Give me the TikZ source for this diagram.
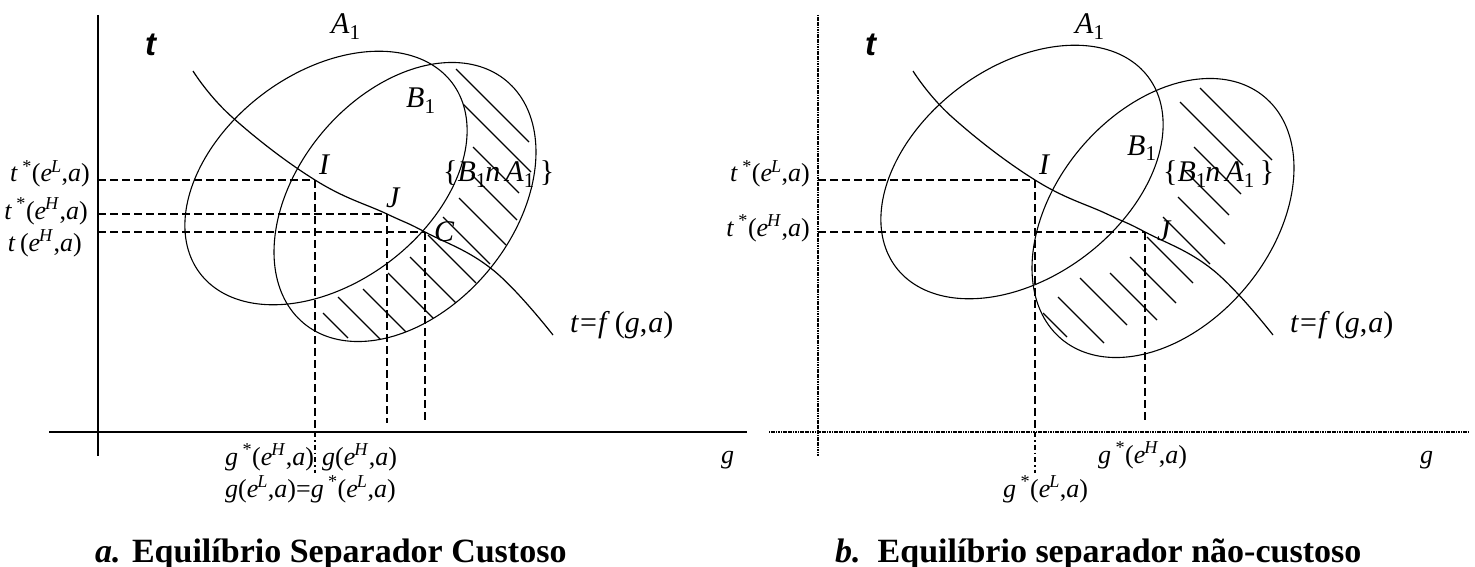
\documentclass[tikz,border=0pt]{standalone}
\usepackage{fontspec}
\setmainfont{Liberation Serif}
\newfontfamily\tsans{Liberation Sans}
\newcommand\Sp[1]{\textsuperscript{#1}}
\newcommand\Ei[1]{\textit{e}\kern-0.04em\textsuperscript{\textit{#1}}}
\newcommand\Feq{\textit{t}\kern1pt=\kern1pt\textit{f}\kern5pt(\textit{g},\kern1pt\textit{a})}
\begin{document}
\begin{tikzpicture}[x=1pt,y=-1pt,
  axis/.style={line width=1.6pt},
  daxis/.style={line width=1.6pt, dash pattern=on 1.2pt off 0.5pt},
  guide/.style={line width=1.4pt, dash pattern=on 8pt off 4pt},
  dguide/.style={line width=1.4pt, dash pattern=on 5pt off 3pt on 1.5pt off 3pt},
  oval/.style={line width=1.1pt},
  fcurve/.style={line width=1.2pt},
  hatch/.style={line width=1.1pt},
  lbl/.style={inner sep=0pt, font=\fontsize{30}{32}\selectfont},
  albl/.style={inner sep=0pt, font=\fontsize{26}{28}\selectfont},
  tlbl/.style={inner sep=0pt, font=\fontsize{33}{35}\selectfont\tsans\bfseries\itshape},
  captn/.style={inner sep=0pt, font=\fontsize{34}{36}\selectfont\bfseries},
  ell/.style n args={5}{insert path={plot[domain=0:360, samples=181, variable=\t] ({#1+#3*cos(\t)*cos(#5)-#4*sin(\t)*sin(#5)}, {#2-#3*cos(\t)*sin(#5)-#4*sin(\t)*cos(#5)}) -- cycle}}
]
\useasboundingbox (0,0) rectangle (1475,567);

% ---------- hatching (B outside A) ----------
\begin{scope}
  \clip[ell={405}{202}{158}{108}{50}];
  \foreach \c/\ya/\yb in {10/313/338, 41/297/343, 74/289/337, 115/273/320, 153/257/303, 193/235/283, 226/217/264, 261/198/245, 297/175/220, 326/147/193, 359/104/172, 387/69/142}
    \draw[hatch] ({\c+\ya},\ya) -- ({\c+\yb},\yb);
\end{scope}
\fill[white, ell={326}{178}{158}{105}{37}];
\begin{scope}
  \clip[ell={1163}{218}{158}{108}{50}];
  \foreach \c/\ya/\yb in {730/313/337, 761/297/343, 802/278/325, 837/273/320, 873/257/303, 910/237/283, 946/217/264, 981/197/244, 1014/170/215, 1047/147/194, 1078/102/165, 1112/88/160}
    \draw[hatch] ({\c+\ya},\ya) -- ({\c+\yb},\yb);
\end{scope}
\fill[white, ell={1022}{172}{158}{105}{37}];

% ---------- panel a ----------
\coordinate (yT1) at (98,15);
\coordinate (yB1) at (98,456);
\coordinate (xL1) at (49,432);
\coordinate (xR1) at (747,432);
\coordinate (gEnd) at (0,423);
\draw[axis] (yT1) -- (yB1);
\draw[axis] (xL1) -- (xR1);

\draw[oval, ell={326}{178}{158}{105}{37}];
\draw[oval, ell={405}{202}{158}{108}{50}];

\coordinate (I1) at (315,180);
\coordinate (J1) at (387,214);
\coordinate (C1) at (425,232);
\draw[fcurve] plot[smooth, tension=0.7] coordinates {(193,71) (232,117) (I1) (J1) (C1) (493,270) (553,335)};

\draw[guide] (I1 -| yT1) -- (I1);
\draw[guide] (J1 -| yT1) -- (J1);
\draw[guide] (C1 -| yT1) -- (C1);
\draw[guide] (I1) -- (I1 |- xL1);
\draw[dguide] (I1 |- xL1) -- ++(0,41);
\draw[guide] (J1) -- (J1 |- gEnd);
\draw[guide] (C1) -- (C1 |- gEnd);

\node[tlbl, anchor=base west] (t1) at (145,56) {t};
\node[lbl, anchor=base west] (A1) at (331,34) {\textit{A}\textsubscript{1}};
\node[lbl, anchor=base west] (B1) at (406,108) {\textit{B}\textsubscript{1}};
\node[lbl, anchor=base west] (BA1) at (443,182) {\{\textit{B}\textsubscript{1}\kern-0.05em\textit{n\,A}\textsubscript{1}\,\}};
\node[lbl, anchor=base west] (lI1) at (319,175) {\textit{I}};
\node[lbl, anchor=base west] (lJ1) at (386,207) {\textit{J}};
\node[lbl, anchor=base west] (lC1) at (434,241) {\textit{C}};
\node[lbl, anchor=base west] (f1) at (570,332) {\Feq};

\node[albl, anchor=base east] (tL1) at (90,182) {\textit{t}\,\Sp{*}(\Ei{L},\textit{a})};
\node[albl, anchor=base east] (tH1) at (88,219) {\textit{t}\,\Sp{*}(\Ei{H},\textit{a})};
\node[albl, anchor=base east] (tc1) at (82,251) {\textit{t}\,(\Ei{H},\textit{a})};
\node[albl, anchor=base west] (gHs1) at (225,465) {\textit{g}\,\Sp{*}(\Ei{H},\textit{a})};
\node[albl, anchor=base west] (gH1) at (322,465) {\textit{g}(\Ei{H},\textit{a})};
\node[albl, anchor=base west] (gL1) at (225,497) {\textit{g}(\Ei{L},\textit{a})=\textit{g}\,\Sp{*}(\Ei{L},\textit{a})};
\node[albl, anchor=base west] (g1) at (721,463) {\textit{g}};

\node[captn, anchor=base west] (cap1) at (95,562) {\textit{a.} Equilíbrio Separador Custoso};

% ---------- panel b ----------
\coordinate (yT2) at (818,15);
\coordinate (yB2) at (818,456);
\coordinate (xL2) at (769,432);
\coordinate (xR2) at (1468,432);
\draw[daxis] (yT2) -- (yB2);
\draw[daxis] (xL2) -- (xR2);

\draw[oval, ell={1022}{172}{158}{105}{37}];
\draw[oval, ell={1163}{218}{158}{108}{50}];

\coordinate (I2) at (1035,180);
\coordinate (J2) at (1145,232);
\begin{scope}[xshift=720pt]
\draw[fcurve] plot[smooth, tension=0.7] coordinates {(193,71) (232,117) (315,180) (387,214) (425,232) (493,270) (553,335)};
\end{scope}

\draw[guide] (I2 -| yT2) -- (I2);
\draw[guide] (J2 -| yT2) -- (J2);
\draw[guide] (I2) -- (I2 |- xL2);
\draw[dguide] (I2 |- xL2) -- ++(0,41);
\draw[guide] (J2) -- (J2 |- gEnd);

\node[tlbl, anchor=base west] (t2) at (865,56) {t};
\node[lbl, anchor=base west] (A2) at (1075,34) {\textit{A}\textsubscript{1}};
\node[lbl, anchor=base west] (B2) at (1127,155) {\textit{B}\textsubscript{1}};
\node[lbl, anchor=base west] (BA2) at (1163,182) {\{\textit{B}\textsubscript{1}\kern-0.05em\textit{n\,A}\textsubscript{1}\,\}};
\node[lbl, anchor=base west] (lI2) at (1039,175) {\textit{I}};
\node[lbl, anchor=base west] (lJ2) at (1157,240) {\textit{J}};
\node[lbl, anchor=base west] (f2) at (1290,332) {\Feq};

\node[albl, anchor=base east] (tL2) at (810,182) {\textit{t}\,\Sp{*}(\Ei{L},\textit{a})};
\node[albl, anchor=base east] (tH2) at (810,236) {\textit{t}\,\Sp{*}(\Ei{H},\textit{a})};
\node[albl, anchor=base west] (gHs2) at (1098,463) {\textit{g}\,\Sp{*}(\Ei{H},\textit{a})};
\node[albl, anchor=base west] (gLs2) at (1003,497) {\textit{g}\,\Sp{*}(\Ei{L},\textit{a})};
\node[albl, anchor=base west] (g2) at (1420,463) {\textit{g}};

\node[captn, anchor=base west] (cap2) at (835,562) {\textit{b.}\ \ Equilíbrio separador não-custoso};
\end{tikzpicture}
\end{document}
